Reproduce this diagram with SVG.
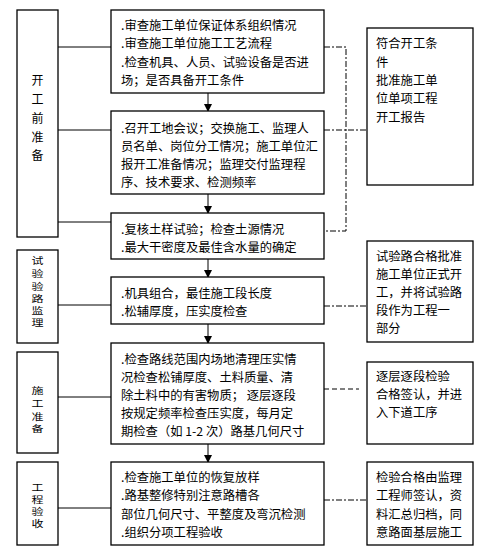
<svg xmlns="http://www.w3.org/2000/svg" width="493" height="560" viewBox="0 0 493 560">
<style>
.box{fill:#fff;stroke:#000;stroke-width:1.3}
.t{font-family:"Noto Sans CJK SC","Noto Sans",sans-serif;font-size:12.3px;fill:#000}
.v{font-family:"Noto Sans CJK SC","Noto Sans",sans-serif;font-size:12px;fill:#000;text-anchor:middle}
.s{stroke:#000;stroke-width:1;fill:none}
.dd{stroke:#000;stroke-width:1;fill:none;stroke-dasharray:6,2,2,2}
.da{stroke:#000;stroke-width:1;fill:none;stroke-dasharray:5,3}
</style>
<defs>
<marker id="ah" markerWidth="8" markerHeight="8" refX="7" refY="4" orient="auto" markerUnits="userSpaceOnUse">
<path d="M0,0 L8,4 L0,8 Z" fill="#000"/>
</marker>
</defs>
<rect width="493" height="560" fill="#fff"/>
<g id="connectors">
<line class="s" x1="58" y1="47" x2="111" y2="47"/>
<line class="s" x1="58" y1="130" x2="111" y2="130"/>
<line class="s" x1="58" y1="222" x2="111" y2="222"/>
<line class="s" x1="58" y1="305" x2="111" y2="305"/>
<line class="s" x1="58" y1="397" x2="111" y2="397"/>
<line class="s" x1="58" y1="508" x2="111" y2="508"/>
<line class="s" x1="208" y1="93" x2="208" y2="111" marker-end="url(#ah)"/>
<line class="s" x1="208" y1="194" x2="208" y2="213" marker-end="url(#ah)"/>
<line class="s" x1="208" y1="259" x2="208" y2="277" marker-end="url(#ah)"/>
<line class="s" x1="208" y1="324" x2="208" y2="343" marker-end="url(#ah)"/>
<line class="s" x1="208" y1="444" x2="208" y2="462" marker-end="url(#ah)"/>
<polyline class="dd" points="324,47 346,47 346,231 325,231"/>
<line class="dd" x1="324" y1="130" x2="367" y2="130"/>
<line class="dd" x1="324" y1="306" x2="367" y2="306"/>
<line class="da" x1="324" y1="389" x2="359" y2="389"/>
<line class="dd" x1="324" y1="500" x2="367" y2="500"/>
</g>
<g id="left1"><rect class="box" x="17" y="10" width="41" height="227"/>
<text class="v" x="37.5" y="85" font-size="13">开</text><text class="v" x="37.5" y="104" font-size="13">工</text><text class="v" x="37.5" y="123" font-size="13">前</text><text class="v" x="37.5" y="142" font-size="13">准</text><text class="v" x="37.5" y="160" font-size="13">备</text></g>
<g id="left2"><rect class="box" x="17" y="250" width="41" height="93"/>
<text class="v" transform="translate(37.5,264) scale(1,0.75)">试</text><text class="v" transform="translate(37.5,277) scale(1,0.75)">验</text><text class="v" transform="translate(37.5,290) scale(1,0.75)">验</text><text class="v" transform="translate(37.5,302) scale(1,0.75)">路</text><text class="v" transform="translate(37.5,314) scale(1,0.75)">监</text><text class="v" transform="translate(37.5,326) scale(1,0.75)">理</text></g>
<g id="left3"><rect class="box" x="17" y="352" width="41" height="101"/>
<text class="v" transform="translate(37.5,394) scale(1,0.75)">施</text><text class="v" transform="translate(37.5,407) scale(1,0.75)">工</text><text class="v" transform="translate(37.5,420) scale(1,0.75)">准</text><text class="v" transform="translate(37.5,432) scale(1,0.75)">备</text></g>
<g id="left4"><rect class="box" x="17" y="462" width="41" height="83"/>
<text class="v" transform="translate(37.5,491) scale(1,0.75)">工</text><text class="v" transform="translate(37.5,503) scale(1,0.75)">程</text><text class="v" transform="translate(37.5,515) scale(1,0.75)">验</text><text class="v" transform="translate(37.5,527) scale(1,0.75)">收</text></g>
<g id="mid1"><rect class="box" x="111" y="10" width="213" height="83"/>
<text class="t" x="121" y="30">.审查施工单位保证体系组织情况</text>
<text class="t" x="121" y="48">.审查施工单位施工工艺流程</text>
<text class="t" x="121" y="67">.检查机具、人员、试验设备是否进</text>
<text class="t" x="121" y="85">场；是否具备开工条件</text></g>
<g id="mid2"><rect class="box" x="111" y="111" width="213" height="83"/>
<text class="t" x="121" y="133">.召开工地会议；交换施工、监理人</text>
<text class="t" x="121" y="151">员名单、岗位分工情况；施工单位汇</text>
<text class="t" x="121" y="169">报开工准备情况；监理交付监理程</text>
<text class="t" x="121" y="187">序、技术要求、检测频率</text></g>
<g id="mid3"><rect class="box" x="111" y="213" width="213" height="46"/>
<text class="t" x="121" y="234">.复核土样试验；检查土源情况</text>
<text class="t" x="121" y="252">.最大干密度及最佳含水量的确定</text></g>
<g id="mid4"><rect class="box" x="111" y="277" width="213" height="47"/>
<text class="t" x="121" y="298">.机具组合，最佳施工段长度</text>
<text class="t" x="121" y="316">.松辅厚度，压实度检查</text></g>
<g id="mid5"><rect class="box" x="111" y="343" width="213" height="101"/>
<text class="t" x="121" y="364">.检查路线范围内场地清理压实情</text>
<text class="t" x="121" y="382">况检查松铺厚度、土料质量、清</text>
<text class="t" x="121" y="400">除土料中的有害物质；  逐层逐段</text>
<text class="t" x="121" y="418">按规定频率检查压实度，每月定</text>
<text class="t" x="121" y="436">期检查（如 1-2 次）路基几何尺寸</text></g>
<g id="mid6"><rect class="box" x="111" y="462" width="213" height="83"/>
<text class="t" x="121" y="482">.检查施工单位的恢复放样</text>
<text class="t" x="121" y="500">.路基整修特别注意路槽各</text>
<text class="t" x="121" y="519">部位几何尺寸、平整度及弯沉检测</text>
<text class="t" x="121" y="537">.组织分项工程验收</text></g>
<g id="right1"><rect class="box" x="367" y="28" width="106" height="157"/>
<text class="t" x="376" y="48">符合开工条</text>
<text class="t" x="376" y="67">件</text>
<text class="t" x="376" y="85">批准施工单</text>
<text class="t" x="376" y="103">位单项工程</text>
<text class="t" x="376" y="122">开工报告</text></g>
<g id="right2"><rect class="box" x="367" y="241" width="106" height="101"/>
<text class="t" x="376" y="261">试验路合格批准</text>
<text class="t" x="376" y="279">施工单位正式开</text>
<text class="t" x="376" y="297">工，并将试验路</text>
<text class="t" x="376" y="315">段作为工程一</text>
<text class="t" x="376" y="333">部分</text></g>
<g id="right3"><rect class="box" x="367" y="362" width="106" height="82"/>
<text class="t" x="376" y="381">逐层逐段检验</text>
<text class="t" x="376" y="399">合格签认，并进</text>
<text class="t" x="376" y="417">入下道工序</text></g>
<g id="right4"><rect class="box" x="367" y="462" width="106" height="83"/>
<text class="t" x="376" y="482">检验合格由监理</text>
<text class="t" x="376" y="500">工程师签认，资</text>
<text class="t" x="376" y="519">料汇总归档，同</text>
<text class="t" x="376" y="537">意路面基层施工</text></g>
</svg>
